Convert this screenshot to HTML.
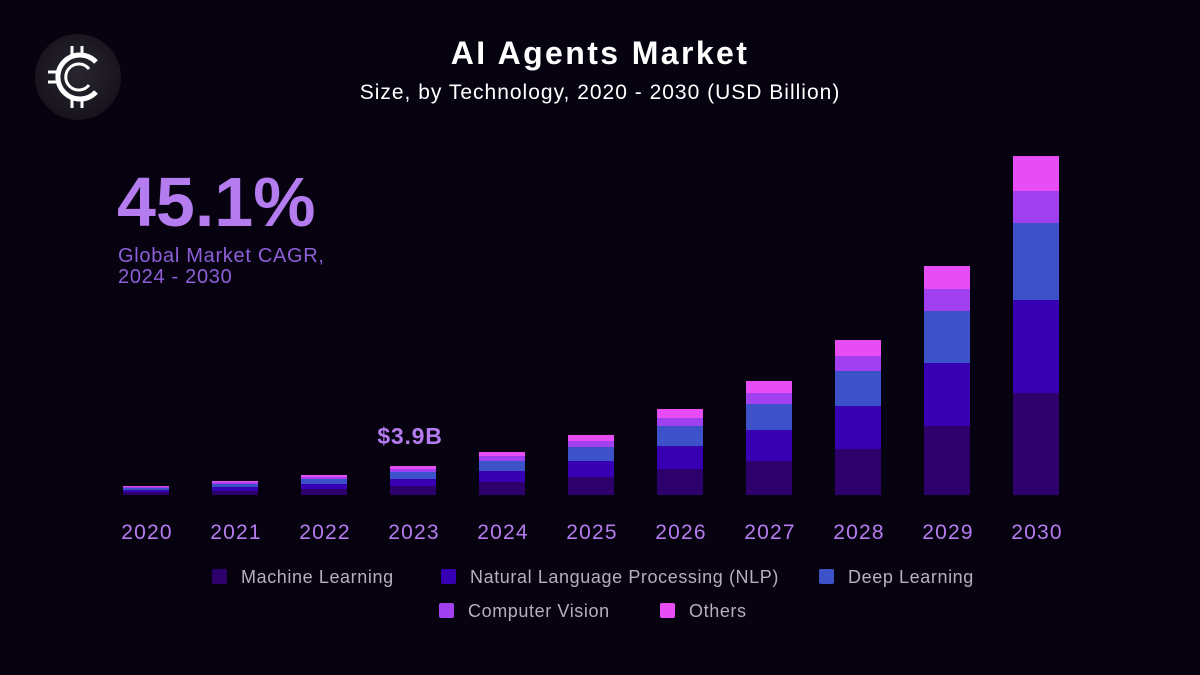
<!DOCTYPE html>
<html><head><meta charset="utf-8"><style>
html,body{margin:0;padding:0;background:#07020f;}
svg{display:block;font-family:"Liberation Sans",sans-serif;}
</style></head><body>
<svg id="chart" width="1200" height="675" viewBox="0 0 1200 675">
<defs>
<radialGradient id="lg" cx="50%" cy="45%" r="55%"><stop offset="0" stop-color="#2a2630"/><stop offset="1" stop-color="#17131d"/></radialGradient>
</defs>
<rect width="1200" height="675" fill="#07020f"/>
<g>
<circle cx="78" cy="77" r="43" fill="url(#lg)"/>
<path d="M96 62 A22 22 0 1 0 96 92" fill="none" stroke="#fff" stroke-width="5"/>
<path d="M89 69 A13 13 0 1 0 89 85" fill="none" stroke="#fff" stroke-width="3"/>
<line x1="72" y1="46" x2="72" y2="57" stroke="#fff" stroke-width="3"/>
<line x1="82" y1="46" x2="82" y2="57" stroke="#fff" stroke-width="3"/>
<line x1="72" y1="97" x2="72" y2="108" stroke="#fff" stroke-width="3"/>
<line x1="82" y1="97" x2="82" y2="108" stroke="#fff" stroke-width="3"/>
<line x1="48" y1="72" x2="58" y2="72" stroke="#fff" stroke-width="3"/>
<line x1="48" y1="82" x2="58" y2="82" stroke="#fff" stroke-width="3"/>
</g>
<text x="600" y="64" text-anchor="middle" fill="#fff" font-size="32" font-weight="bold" letter-spacing="2.4">AI Agents Market</text>
<text x="600" y="99" text-anchor="middle" fill="#fff" font-size="21" letter-spacing="1">Size, by Technology, 2020 - 2030 (USD Billion)</text>
<text x="117" y="226" fill="#b57cf0" font-size="70" font-weight="bold">45.1%</text>
<text x="118" y="262" fill="#8d5fd9" font-size="20" letter-spacing="0.7">Global Market CAGR,</text>
<text x="118" y="283" fill="#8d5fd9" font-size="20" letter-spacing="0.7">2024 - 2030</text>
<g id="bars"></g>
<g id="labels"></g>
<g id="legend"></g>
</svg>
<script>
const years = ["2020","2021","2022","2023","2024","2025","2026","2027","2028","2029","2030"];
const seriesNames = ["Machine Learning","Natural Language Processing (NLP)","Deep Learning","Computer Vision","Others"];
const machineLearning = [0.40,0.54,0.81,1.21,1.75,2.42,3.49,4.57,6.18,9.27,13.71];
const nlp = [0.27,0.54,0.67,0.94,1.48,2.15,3.09,4.17,5.78,8.47,12.50];
const deepLearning = [0.27,0.40,0.67,0.94,1.34,1.88,2.69,3.49,4.70,6.99,10.35];
const computerVision = [0.13,0.20,0.27,0.40,0.67,0.81,1.08,1.48,2.02,2.96,4.30];
const others = [0.13,0.20,0.27,0.40,0.54,0.81,1.21,1.61,2.15,3.09,4.70];
const annotationLabel = "$3.9B";
const annotationIndex = 3;

const NS="http://www.w3.org/2000/svg";
const series=[machineLearning,nlp,deepLearning,computerVision,others];
const colors=["#2d006b","#3700b3","#3d52c8","#a040f0","#e84df5"];
const baseY=495, pxPerB=7.44, x0=146, step=89, bw=46;
function xScale(i){return x0+i*step;}
function yLen(v){return v*pxPerB;}
const gb=document.getElementById('bars'), gl=document.getElementById('labels'), gg=document.getElementById('legend');
years.forEach((yr,i)=>{
  let y=baseY;
  series.forEach((s,k)=>{
    const h=yLen(s[i]); y-=h;
    const r=document.createElementNS(NS,'rect');
    r.setAttribute('x',xScale(i)-bw/2); r.setAttribute('y',y);
    r.setAttribute('width',bw); r.setAttribute('height',h);
    r.setAttribute('fill',colors[k]);
    
    
    gb.appendChild(r);
  });
  if(i===annotationIndex){
    const t=document.createElementNS(NS,'text');
    t.setAttribute('x',xScale(i)-3); t.setAttribute('y',y-22);
    t.setAttribute('text-anchor','middle'); t.setAttribute('fill','#b57cf0');
    t.setAttribute('font-size','23'); t.setAttribute('font-weight','bold');
    t.setAttribute('letter-spacing','0.8');
    t.textContent=annotationLabel;
    
    
    gl.appendChild(t);
  }
  const t=document.createElementNS(NS,'text');
  t.setAttribute('x',xScale(i)+1); t.setAttribute('y',539);
  t.setAttribute('text-anchor','middle'); t.setAttribute('fill','#b57cf0');
  t.setAttribute('font-size','21'); t.setAttribute('letter-spacing','1.2');
  t.textContent=yr;
  
  
  gl.appendChild(t);
});
const legPos=[[212,569],[441,569],[819,569],[439,603],[660,603]];
seriesNames.forEach((n,k)=>{
  const g=document.createElementNS(NS,'g');
  
  
  const r=document.createElementNS(NS,'rect');
  r.setAttribute('x',legPos[k][0]); r.setAttribute('y',legPos[k][1]);
  r.setAttribute('width',15); r.setAttribute('height',15); r.setAttribute('rx',2);
  r.setAttribute('fill',colors[k]);
  
  
  const t=document.createElementNS(NS,'text');
  t.setAttribute('x',legPos[k][0]+29); t.setAttribute('y',legPos[k][1]+14);
  t.setAttribute('fill','#b4b0bc'); t.setAttribute('font-size','18');
  t.setAttribute('letter-spacing','0.6');
  t.textContent=n;
  
  
  g.appendChild(r); g.appendChild(t); gg.appendChild(g);
});
</script>
</body></html>
